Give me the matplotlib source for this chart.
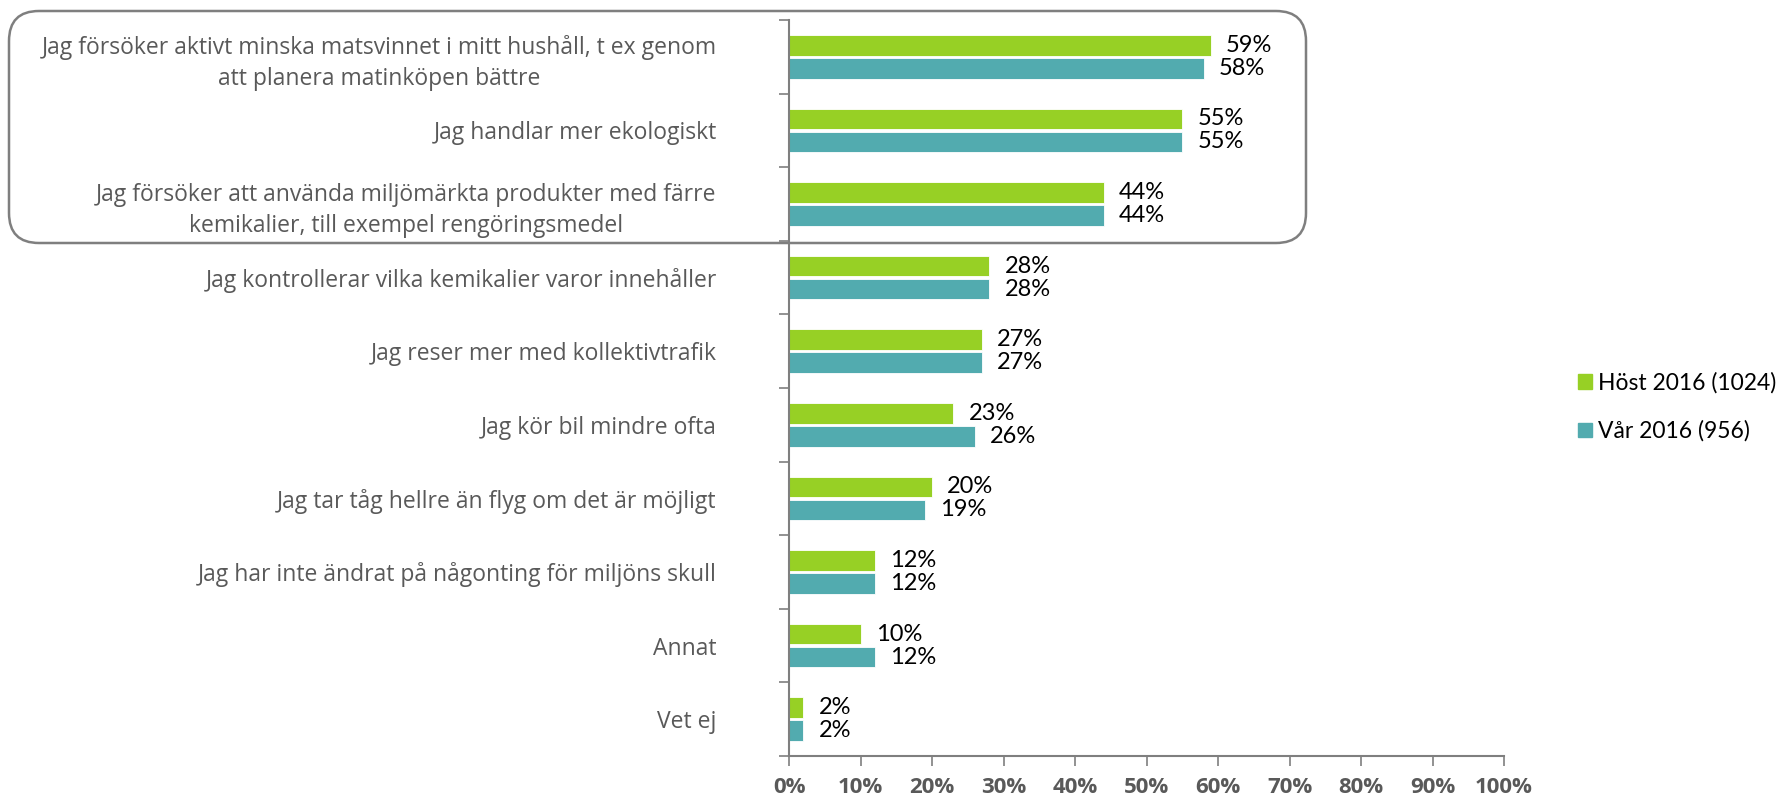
import matplotlib.pyplot as plt
import numpy as np
from matplotlib.patches import FancyBboxPatch, Patch
from matplotlib.ticker import MultipleLocator, FuncFormatter

# Data
categories = [
    "Jag försöker aktivt minska matsvinnet i mitt hushåll, t ex genom\natt planera matinköpen bättre",
    "Jag handlar mer ekologiskt",
    "Jag försöker att använda miljömärkta produkter med färre\nkemikalier, till exempel rengöringsmedel",
    "Jag kontrollerar vilka kemikalier varor innehåller",
    "Jag reser mer med kollektivtrafik",
    "Jag kör bil mindre ofta",
    "Jag tar tåg hellre än flyg om det är möjligt",
    "Jag har inte ändrat på någonting för miljöns skull",
    "Annat",
    "Vet ej",
]
host_2016 = [59, 55, 44, 28, 27, 23, 20, 12, 10, 2]
var_2016 = [58, 55, 44, 28, 27, 26, 19, 12, 12, 2]
series_names = ["Höst 2016 (1024)", "Vår 2016 (956)"]

green = "#97d025"
teal = "#52abaf"
gray = "#595959"
axis_gray = "#7f7f7f"

label_font = ["Open Sans", "DejaVu Sans"]
value_font = ["Lato", "DejaVu Sans"]

fig = plt.figure(figsize=(17.87, 8), dpi=100)
ax = fig.add_axes([789 / 1787, 1 - 756 / 800, (1504 - 789) / 1787, (756 - 20) / 800])

y = np.arange(len(categories))
h = 0.28
off = 0.155
b1 = ax.barh(y - off, host_2016, height=h, color=green, edgecolor="white", linewidth=0.6)
b2 = ax.barh(y + off, var_2016, height=h, color=teal, edgecolor="white", linewidth=0.6)

for bars in (b1, b2):
    for rect in bars:
        w = rect.get_width()
        ax.annotate(f"{w:.0f}%", (w, rect.get_y() + rect.get_height() / 2),
                    xytext=(11, 0), textcoords="offset points",
                    va="center", ha="left", fontsize=17, color="black",
                    family=value_font)

ax.set_xlim(0, 100)
ax.set_ylim(len(categories) - 0.5, -0.5)

# x axis
ax.xaxis.set_major_locator(MultipleLocator(10))
ax.xaxis.set_major_formatter(FuncFormatter(lambda v, p: f"{v:.0f}%"))
ax.tick_params(axis="x", length=7, width=1.2, color=axis_gray, pad=8,
               labelsize=16, labelcolor=gray)
for lab in ax.get_xticklabels():
    lab.set_fontweight("bold")
    lab.set_family(label_font)

# y axis: labels at centres, ticks at band edges
ax.set_yticks(y)
ax.set_yticklabels(categories, fontsize=16.5, color=gray, family=label_font,
                   ha="right", multialignment="center", linespacing=1.4)
ax.tick_params(axis="y", which="major", length=0, pad=52)
ax.set_yticks(np.arange(-0.5, len(categories), 1), minor=True)
ax.tick_params(axis="y", which="minor", length=7, width=1.2, color=axis_gray)

for s in ("top", "right"):
    ax.spines[s].set_visible(False)
for s in ("left", "bottom"):
    ax.spines[s].set_color(axis_gray)
    ax.spines[s].set_linewidth(1.5)

# legend
handles = [Patch(color=green), Patch(color=teal)]
fig.legend(handles, series_names, loc="center left",
           bbox_to_anchor=(1578 / 1787, 1 - 407 / 800), frameon=False,
           borderpad=0, borderaxespad=0,
           handlelength=0.61, handleheight=0.61, handletextpad=0.28,
           labelspacing=1.18, prop={"family": value_font, "size": 16.5})

# rounded highlight box around the top three statements
box = FancyBboxPatch((0.09, 8 - 2.43), 12.97, 2.32,
                     boxstyle="round,pad=0,rounding_size=0.3",
                     transform=fig.dpi_scale_trans, facecolor="none",
                     edgecolor="#7f7f7f", linewidth=1.8, zorder=5)
fig.add_artist(box)

fig.savefig("out.png", dpi=100)
